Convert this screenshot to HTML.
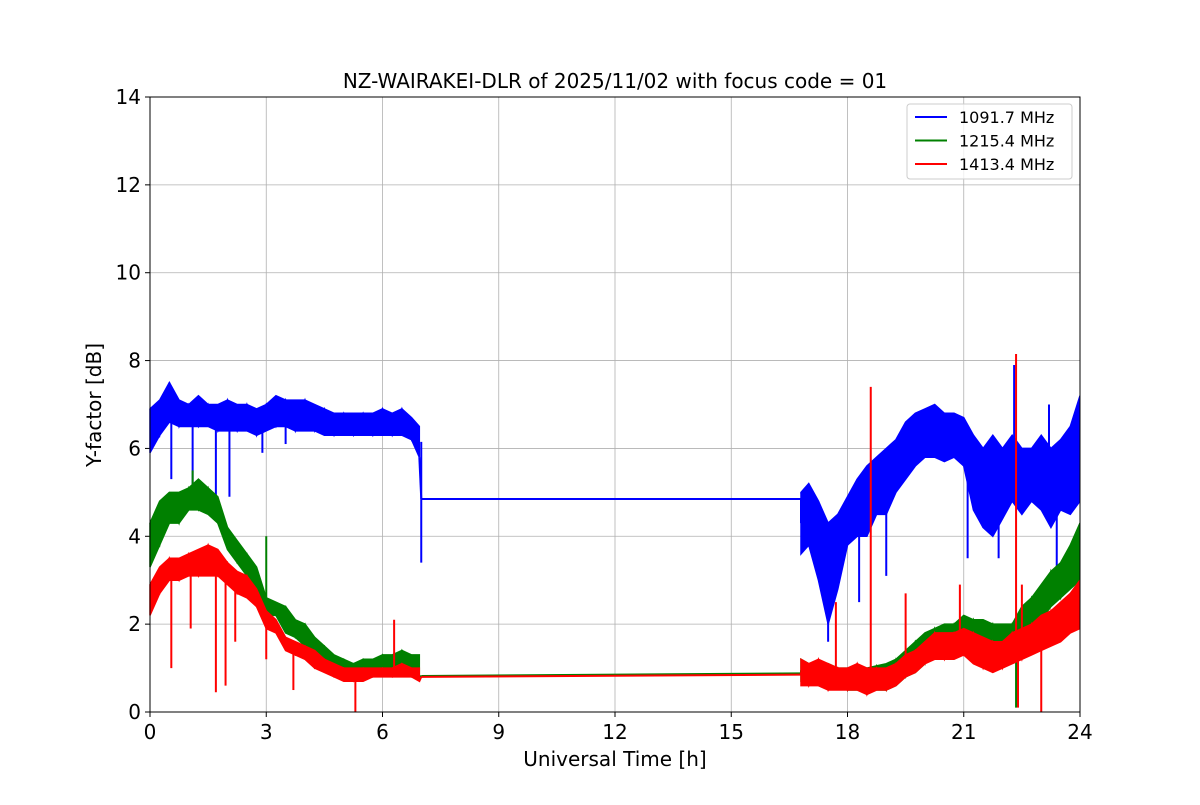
<!DOCTYPE html>
<html><head><meta charset="utf-8"><style>
body{margin:0;background:#fff;font-family:"Liberation Sans","DejaVu Sans",sans-serif}
svg text{font-family:"DejaVu Sans","Liberation Sans",sans-serif}
</style></head><body>
<svg id="c" width="1200" height="800" xmlns="http://www.w3.org/2000/svg"></svg>
<script>
const xTicks=[0,3,6,9,12,15,18,21,24];
const yTicks=[0,2,4,6,8,10,12,14];
const bandTimesA=[0,0.25,0.5,0.75,1,1.25,1.5,1.75,2,2.25,2.5,2.75,3,3.25,3.5,3.75,4,4.25,4.5,4.75,5,5.25,5.5,5.75,6,6.25,6.5,6.75,6.95];
const bandTimesB=[16.8,17,17.25,17.5,17.75,18,18.25,18.5,18.75,19,19.25,19.5,19.75,20,20.25,20.5,20.75,21,21.25,21.5,21.75,22,22.25,22.5,22.75,23,23.25,23.5,23.75,24];
const blueLoA=[5.9,6.3,6.6,6.5,6.5,6.5,6.5,6.4,6.4,6.4,6.4,6.3,6.4,6.5,6.5,6.4,6.4,6.4,6.3,6.3,6.3,6.3,6.3,6.3,6.3,6.3,6.3,6.2,5.8];
const blueHiA=[6.9,7.1,7.5,7.1,7.0,7.2,7.0,7.0,7.1,7.0,7.0,6.9,7.0,7.2,7.1,7.1,7.1,7.0,6.9,6.8,6.8,6.8,6.8,6.8,6.9,6.8,6.9,6.7,6.5];
const blueLoB=[3.6,3.8,3.0,2.0,2.8,3.8,4.0,4.0,4.5,4.5,5.0,5.3,5.6,5.8,5.8,5.7,5.8,5.6,4.6,4.2,4.0,4.4,4.8,4.5,4.8,4.6,4.2,4.6,4.5,4.8];
const blueHiB=[5.0,5.2,4.8,4.3,4.5,4.9,5.3,5.6,5.8,6.0,6.2,6.6,6.8,6.9,7.0,6.8,6.8,6.7,6.3,6.0,6.3,6.0,6.3,6.0,6.0,6.3,6.0,6.2,6.5,7.2];
const blueGap=[4.85,4.85];
const greenLoA=[3.3,3.8,4.3,4.3,4.6,4.6,4.5,4.3,3.7,3.4,3.1,2.8,2.2,2.2,1.8,1.7,1.5,1.3,1.1,1.0,0.9,0.9,0.9,0.9,1.0,0.9,1.0,0.9,0.8];
const greenHiA=[4.3,4.8,5.0,5.0,5.1,5.3,5.1,4.9,4.2,3.9,3.6,3.3,2.6,2.5,2.4,2.1,2.0,1.7,1.5,1.3,1.2,1.1,1.2,1.2,1.3,1.3,1.4,1.3,1.3];
const greenLoB=[0.7,0.7,0.65,0.6,0.55,0.5,0.5,0.5,0.5,0.5,0.6,0.8,0.9,1.1,1.3,1.4,1.4,1.5,1.4,1.4,1.3,1.2,1.3,1.6,1.9,2.1,2.4,2.6,2.8,3.0];
const greenHiB=[1.2,1.1,1.1,1.1,1.0,1.0,1.0,1.0,1.05,1.1,1.2,1.4,1.6,1.8,1.9,2.0,2.0,2.2,2.1,2.1,2.0,2.0,2.0,2.4,2.6,2.9,3.2,3.4,3.8,4.3];
const greenGap=[0.82,0.88];
const redLoA=[2.2,2.7,3.0,3.0,3.1,3.1,3.1,3.1,2.9,2.7,2.6,2.4,1.9,1.8,1.4,1.3,1.2,1.0,0.9,0.8,0.7,0.7,0.7,0.8,0.8,0.8,0.8,0.8,0.7];
const redHiA=[2.9,3.3,3.5,3.5,3.6,3.7,3.8,3.7,3.4,3.2,3.1,2.8,2.3,2.1,1.7,1.6,1.5,1.4,1.2,1.1,1.0,1.0,1.0,1.0,1.0,1.0,1.1,1.0,1.0];
const redLoB=[0.6,0.6,0.6,0.5,0.5,0.5,0.5,0.4,0.5,0.5,0.6,0.8,0.9,1.1,1.2,1.2,1.2,1.3,1.1,1.0,0.9,1.0,1.1,1.2,1.3,1.4,1.5,1.6,1.8,1.9];
const redHiB=[1.2,1.1,1.2,1.1,1.0,1.0,1.1,1.0,1.0,1.0,1.1,1.3,1.4,1.6,1.8,1.8,1.8,1.9,1.8,1.7,1.6,1.6,1.8,1.9,2.0,2.2,2.3,2.5,2.7,3.0];
const redGap=[0.8,0.85];
const blueSpikeT=[0.55,1.1,1.7,2.05,2.9,3.5,7.0,17.5,18.3,19.0,21.1,21.9,23.4,22.3,23.2];
const blueSpikeV=[5.3,5.1,4.9,4.9,5.9,6.1,3.4,1.6,2.5,3.1,3.5,3.5,3.2,7.9,7.0];
const greenSpikeT=[3.0,1.1,22.35,22.4];
const greenSpikeV=[4.0,5.5,0.1,0.2];
const redSpikeT=[0.55,1.05,1.7,1.95,2.2,3.0,3.7,5.3,22.4,23.0,6.3,18.6,17.7,19.5,20.9,22.35,22.5];
const redSpikeV=[1.0,1.9,0.45,0.6,1.6,1.2,0.5,0.0,0.1,0.0,2.1,7.4,2.5,2.7,2.9,8.15,2.9];

const X0=150,X1=1080,Y0=712,Y1=97;
const sx=t=>X0+(t/24)*(X1-X0);
const sy=v=>Y0-(v/14)*(Y0-Y1);
const NS="http://www.w3.org/2000/svg";
const svg=document.getElementById('c');
function mk(tag,attrs,parent){const e=document.createElementNS(NS,tag);for(const k in attrs)e.setAttribute(k,attrs[k]);(parent||svg).appendChild(e);return e;}

const grid=mk('g',{});


xTicks.forEach(t=>{
  const l=mk('line',{x1:sx(t),x2:sx(t),y1:Y1,y2:Y0,stroke:'#b0b0b0','stroke-width':0.8},grid);
  
  
  mk('line',{x1:sx(t),x2:sx(t),y1:Y0,y2:Y0+5,stroke:'#000'},grid);
  const tx=mk('text',{x:sx(t),y:Y0+27,'font-size':20,'text-anchor':'middle'},grid);tx.textContent=t;
  
  
});
yTicks.forEach(v=>{
  const l=mk('line',{x1:X0,x2:X1,y1:sy(v),y2:sy(v),stroke:'#b0b0b0','stroke-width':0.8},grid);
  
  
  mk('line',{x1:X0-5,x2:X0,y1:sy(v),y2:sy(v),stroke:'#000'},grid);
  const tx=mk('text',{x:X0-9,y:sy(v)+7,'font-size':20,'text-anchor':'end'},grid);tx.textContent=v;
  
  
});

function series(color,name,lo1,hi1,lo2,hi2,gap,spT,spV){
  const g=mk('g',{});
  
  
  [[bandTimesA,lo1,hi1],[bandTimesB,lo2,hi2]].forEach(([ts,lo,hi])=>{
    let p=ts.map((t,i)=>sx(t)+','+sy(hi[i])).join(' ')+' '+ts.slice().reverse().map((t,j)=>{const i=ts.length-1-j;return sx(t)+','+sy(lo[i]);}).join(' ');
    mk('polygon',{points:p,fill:color,stroke:color,'stroke-width':1.5},g);
    let z=ts.map((t,i)=>sx(t)+','+sy(i%2?lo[i]:hi[i])).join(' ');
    mk('polyline',{points:z,fill:'none',stroke:color,'stroke-width':1.5},g);
  });
  mk('line',{x1:sx(bandTimesA[bandTimesA.length-1]),y1:sy(lo1[lo1.length-1]),x2:sx(7.0),y2:sy(gap[0]),stroke:color,'stroke-width':2},g);
  mk('line',{x1:sx(7.0),y1:sy(gap[0]),x2:sx(bandTimesB[0]),y2:sy(gap[1]),stroke:color,'stroke-width':2},g);
  mk('line',{x1:sx(bandTimesB[0]),y1:sy(gap[1]),x2:sx(bandTimesB[0]),y2:sy((lo2[0]+hi2[0])/2),stroke:color,'stroke-width':2},g);
  const all=bandTimesA.concat(bandTimesB),mids=lo1.concat(lo2).map((l,i)=>(l+hi1.concat(hi2)[i])/2);
  spT.forEach((t,i)=>{
    let bi=0,bd=1e9;all.forEach((a,j)=>{const d=Math.abs(a-t);if(d<bd){bd=d;bi=j;}});
    const base=bd>0.5?gap[0]:mids[bi];
    const s=mk('line',{x1:sx(t),x2:sx(t),y1:sy(base),y2:sy(spV[i]),stroke:color,'stroke-width':2},g);
    
    
  });
}
series('#0000ff','series-1091-mhz',blueLoA,blueHiA,blueLoB,blueHiB,blueGap,blueSpikeT,blueSpikeV);
series('#008000','series-1215-mhz',greenLoA,greenHiA,greenLoB,greenHiB,greenGap,greenSpikeT,greenSpikeV);
series('#ff0000','series-1413-mhz',redLoA,redHiA,redLoB,redHiB,redGap,redSpikeT,redSpikeV);

const fr=mk('rect',{x:X0,y:Y1,width:X1-X0,height:Y0-Y1,fill:'none',stroke:'#000','stroke-width':1});


// cover overflow outside axes
mk('rect',{x:X1+0.5,y:Y1-10,width:40,height:Y0-Y1+20,fill:'#fff'});
const title=mk('text',{x:615,y:88,'font-size':20,'text-anchor':'middle'});title.textContent='NZ-WAIRAKEI-DLR of 2025/11/02 with focus code = 01';


const xl=mk('text',{x:615,y:766,'font-size':20,'text-anchor':'middle'});xl.textContent='Universal Time [h]';


const yl=mk('text',{x:101,y:405,'font-size':20,'text-anchor':'middle',transform:'rotate(-90 101 405)'});yl.textContent='Y-factor [dB]';



const lg=mk('g',{});


mk('rect',{x:907,y:104,width:165,height:75,rx:3,fill:'#fff','fill-opacity':0.8,stroke:'#ccc'},lg);
[['#0000ff','1091.7 MHz'],['#008000','1215.4 MHz'],['#ff0000','1413.4 MHz']].forEach((e,i)=>{
  const y=117+i*23.5;
  const en=mk('g',{},lg);
  
  
  mk('line',{x1:915,x2:947,y1:y,y2:y,stroke:e[0],'stroke-width':2},en);
  const t=mk('text',{x:959,y:y+6,'font-size':16},en);t.textContent=e[1];
});
</script>
</body></html>
